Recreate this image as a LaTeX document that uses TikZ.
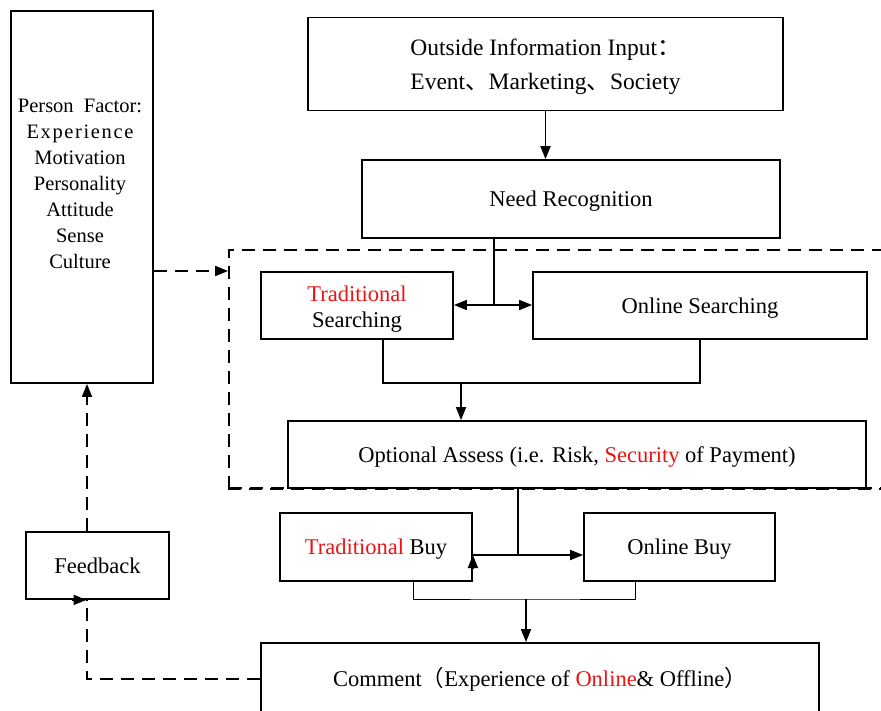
\documentclass[tikz,border=0pt]{standalone}
\usepackage{fontspec}
\setmainfont{Liberation Serif}
\newfontfamily\cjk{Noto Sans CJK SC}
\usetikzlibrary{arrows.meta}
\definecolor{hl}{RGB}{235,20,20}
\begin{document}
\begin{tikzpicture}[x=1pt,y=-1pt,
  every node/.style={font=\fontsize{22.5}{26}\selectfont},
  box/.style={draw,line width=1.8pt,inner sep=0pt,align=center,text height=16pt,text depth=1pt},
  plain/.style={draw,line width=1.8pt,inner sep=0pt},
  conn/.style={line width=1.8pt},
  arr/.style={line width=1.8pt,-{Triangle[length=13pt,width=10pt]}},
  dsh/.style={line width=1.8pt,dash pattern=on 13pt off 8pt}]
\useasboundingbox (0,0) rectangle (881,710);
\clip (0,0) rectangle (881,710);
% dashed frame
\node[dsh,draw,inner sep=0pt,minimum width=671pt,minimum height=238pt] (db) at (564.5,369) {};
% boxes
\node[plain,minimum width=142pt,minimum height=372pt] (pf) at (82,197) {};
\node[align=center,font=\fontsize{20.5}{26}\selectfont] (pft) at (80,184)
  {Person\ \ Factor:\\{\addfontfeature{LetterSpace=8}Experience}\\Motivation\\Personality\\Attitude\\Sense\\Culture};
\node[plain,minimum width=475pt,minimum height=93pt] (oi) at (545.5,64) {};
\node[align=center,font=\fontsize{23.5}{33.5}\selectfont] (oit) at (545.5,67)
  {Outside Information Input{\cjk ：}\\Event{\cjk 、}Marketing{\cjk 、}Society};
\node[box,minimum width=418pt,minimum height=78pt] (nr) at (571,199) {Need Recognition};
\node[plain,minimum width=192pt,minimum height=67pt] (ts) at (357,305.5) {};
\node[align=center] (tst) at (357,309.5) {\textcolor{hl}{Traditional}\\Searching};
\node[box,minimum width=334pt,minimum height=67pt] (os) at (700,305.5) {Online Searching};
\node[box,fill=white,minimum width=578pt,minimum height=67pt] (oa) at (577,454.5) {Optional Assess (i.e. Risk, \textcolor{hl}{Security} of Payment)};
\node[box,minimum width=192pt,minimum height=68pt] (tb) at (376,547) {\textcolor{hl}{Traditional} Buy};
\node[box,minimum width=191pt,minimum height=68pt] (ob) at (679.5,547) {Online Buy};
\node[box,minimum width=558pt,minimum height=72pt] (cm) at (540,679) {Comment{\cjk （}Experience of \textcolor{hl}{Online}\& Offline{\cjk ）}};
\node[box,minimum width=143pt,minimum height=67pt] (fb) at (97.5,565.5) {Feedback};
% dashed frame bottom drawn again on top of oa
\draw[dsh] (db.south west) -- (db.south east);
% connectors
\coordinate (j1) at (494,305);
\coordinate (j2) at (461,383);
\coordinate (j3) at (518,555);
\coordinate (j4) at (526,599);
\draw[arr] (oi.south) -- (oi.south |- nr.north);
\draw[conn] (nr.south -| j1) -- (j1);
\draw[arr] (j1) -- (ts.east |- j1);
\draw[arr] (j1) -- (os.west |- j1);
\draw[conn] ([xshift=26pt]ts.south) |- (j2) -| (os.south);
\draw[arr] (j2) -- (j2 |- oa.north);
\draw[conn] (j3 |- oa.south) -- (j3);
\draw[conn] (j3) -- (tb.east |- j3);
\draw[arr] ([yshift=-14pt]tb.east |- j3) -- (tb.east |- j3);
\draw[arr] (j3) -- (ob.west |- j3);
\draw[line width=0.8pt] ([xshift=37pt]tb.south) |- (j4) -| ([xshift=-44.5pt]ob.south);
\draw[arr] (j4) -- (j4 |- cm.north);
\draw[dsh] (cm.west) -| ([xshift=-10.5pt]fb.south);
\draw[arr] ([xshift=-26pt]fb.south) -- ([xshift=-11pt]fb.south);
\draw[dsh,-{Triangle[length=13pt,width=10pt]}] ([xshift=-10.5pt]fb.north) -- ([xshift=-10.5pt]fb.north |- pf.south);
\draw[dsh,-{Triangle[length=13pt,width=10pt]}] ([yshift=-74pt]pf.east) -- ([yshift=-74pt]pf.east -| db.west);
\end{tikzpicture}
\end{document}
